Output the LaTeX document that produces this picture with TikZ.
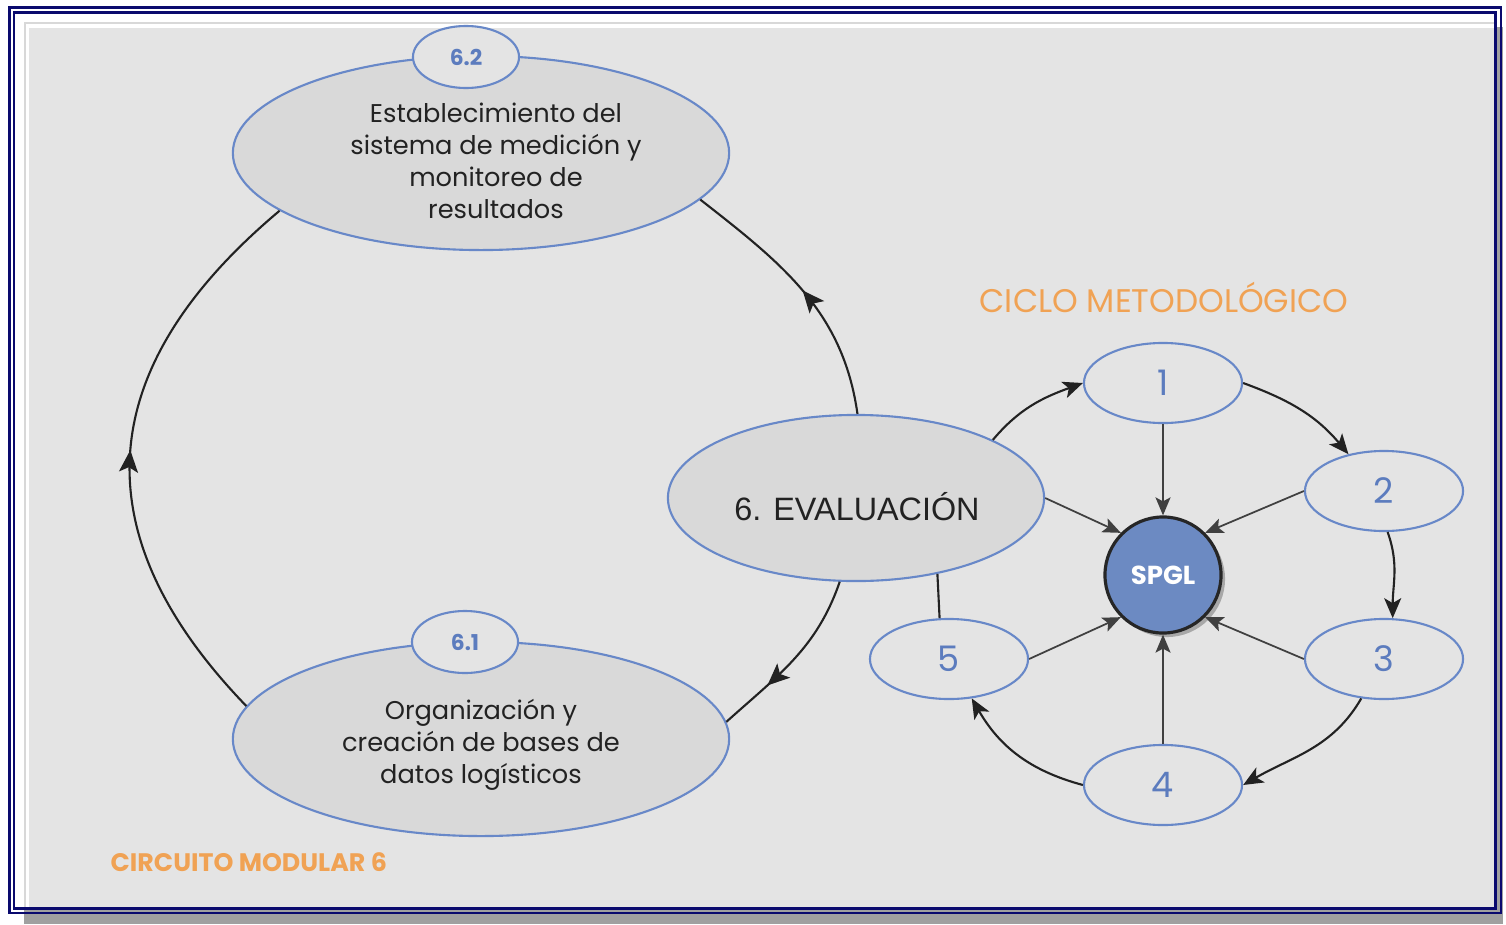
\documentclass[tikz,border=0pt]{standalone}
\usepackage{fontspec}
\setmainfont{Poppins}
\newfontfamily\evalfont{Liberation Sans}
\usetikzlibrary{positioning,arrows.meta,shapes.geometric,shadows,decorations.markings}

\definecolor{navyframe}{RGB}{10,10,110}
\definecolor{shadowgray}{RGB}{160,160,160}
\definecolor{rimgray}{RGB}{216,216,216}
\definecolor{panelgray}{RGB}{228,228,228}
\definecolor{ovalgray}{RGB}{217,217,217}
\definecolor{ovalblue}{RGB}{104,136,200}
\definecolor{numblue}{RGB}{92,124,190}
\definecolor{hubblue}{RGB}{108,138,194}
\definecolor{titleorange}{RGB}{240,162,84}
\definecolor{inkgray}{RGB}{34,34,34}

\begin{document}
\begin{tikzpicture}[
        x=0.01cm, y=0.01cm,
        bigoval/.style={
            ellipse,
            draw=ovalblue,
            fill=ovalgray,
            line width=0.6pt,
            inner sep=0pt,
            minimum width=4.96cm,
            minimum height=1.94cm
        },
        ovaltext/.style={
            align=center,
            inner sep=0pt,
            text=inkgray,
            font=\fontsize{7.3}{9.1}\selectfont
        },
        tagoval/.style={
            ellipse,
            draw=ovalblue,
            fill=panelgray,
            line width=0.6pt,
            inner sep=0pt,
            minimum width=1.06cm,
            minimum height=0.62cm,
            text=numblue,
            font=\fontsize{6.2}{7}\selectfont\bfseries
        },
        stepoval/.style={
            ellipse,
            draw=ovalblue,
            line width=0.6pt,
            inner sep=0pt,
            minimum width=1.58cm,
            minimum height=0.8cm,
            text=numblue,
            font=\fontsize{10}{12}\selectfont
        },
        hub/.style={
            circle,
            draw=black!85,
            fill=hubblue,
            line width=0.9pt,
            inner sep=0pt,
            minimum size=1.16cm,
            text=white,
            font=\fontsize{7.4}{9}\selectfont\bfseries,
            drop shadow={shadow xshift=0.04cm, shadow yshift=-0.04cm, opacity=0.6}
        },
        headline/.style={
            text=titleorange,
            inner sep=0pt
        },
        arrow/.style={
            -{Stealth[length=2mm,width=1.7mm,inset=0.5mm]},
            line width=0.6pt,
            draw=inkgray
        },
        spoke/.style={
            -{Stealth[length=1.8mm,width=1.5mm,inset=0.4mm]},
            line width=0.5pt,
            draw=black!75
        },
        loopline/.style={
            line width=0.6pt,
            draw=inkgray
        },
        midarrow/.style={
            loopline,
            postaction={decorate},
            decoration={markings, mark=at position #1 with {\arrow{Stealth[length=2.2mm,width=1.9mm,inset=0.5mm]}}}
        },
        midarrow/.default=0.5
    ]

    % Frame and panel
    \useasboundingbox (0,0) rectangle (1506,-924);
    \fill[white] (0,0) rectangle (1506,-924);
    \fill[shadowgray] (24,-27) rectangle (1503,-924);
    \fill[white] (9,-7) rectangle (1496,-909);
    \fill[rimgray] (24,-22) rectangle (1495,-908);
    \fill[white] (26,-24) rectangle (1495,-908);
    \fill[panelgray] (29,-28) rectangle (1495,-908);
    \draw[navyframe, line width=0.8pt] (9.5,-7.5) rectangle (1501,-913);
    \draw[navyframe, line width=0.6pt] (14,-12.5) rectangle (1495.5,-908.5);

    % Circuito modular 6
    \node[bigoval] (est) at (481,-153) {};
    \node[ovaltext] (esttext) at (496,-161) {Establecimiento del\\sistema de medición y\\monitoreo de\\resultados};
    \node[tagoval] (t62) at (466,-57) {6.2};
    \node[bigoval] (org) at (481,-739) {};
    \node[ovaltext] (orgtext) at (481,-745) {Organización y\\creación de bases de\\datos logísticos};
    \node[tagoval] (t61) at (465,-642) {6.1};
    \node[bigoval, minimum width=3.76cm, minimum height=1.66cm] (eval) at (856,-498) {};
    \node[ovaltext, font=\evalfont\fontsize{9.2}{11}\selectfont] (evaltext) at (857,-507) {6. EVALUACIÓN};

    % Ciclo metodologico
    \node[hub] (spgl) at (1163,-575) {SPGL};
    \node[stepoval] (s1) at (1163,-383) {1};
    \node[stepoval] (s2) at (1384,-491) {2};
    \node[stepoval] (s3) at (1384,-659) {3};
    \node[stepoval] (s4) at (1163,-785) {4};
    \node[stepoval] (s5) at (949,-659) {5};

    % Titles
    \node[headline, font=\fontsize{9.3}{11}\selectfont] (ciclo) at (1164,-297) {CICLO METODOLÓGICO};
    \node[headline, anchor=west, font=\fontsize{7.2}{9}\selectfont\bfseries] (circuito) at (110,-862) {CIRCUITO MODULAR 6};

    % Big loop round the module
    \draw[midarrow] (org.172) to[out=134,in=220,looseness=1.25] (est.196);
    \draw[midarrow] (eval.89) to[out=98,in=-38] (est.348);
    \draw[midarrow=0.7] (eval.259) to[out=251,in=42] (org.4);

    % Cycle of steps
    \draw[arrow] (eval.23) to[out=50,in=200] (s1.west);
    \draw[arrow] (s1.east) to[out=-20,in=130] (s2.134);
    \draw[arrow] (s2.275) to[out=-70,in=90] (s3.78);
    \draw[arrow] (s3.240) to[out=240,in=30] (s4.east);
    \draw[arrow] (s4.west) to[out=165,in=-60] (s5.300);
    \draw[loopline] (eval.317) -- (s5.103);

    % Spokes into SPGL
    \draw[spoke] (s1.south) -- (spgl.north);
    \draw[spoke] (s2.west) -- (spgl.45);
    \draw[spoke] (s3.west) -- (spgl.-45);
    \draw[spoke] (s4.north) -- (spgl.south);
    \draw[spoke] (s5.east) -- (spgl.225);
    \draw[spoke] (eval.east) -- (spgl.135);

\end{tikzpicture}
\end{document}
